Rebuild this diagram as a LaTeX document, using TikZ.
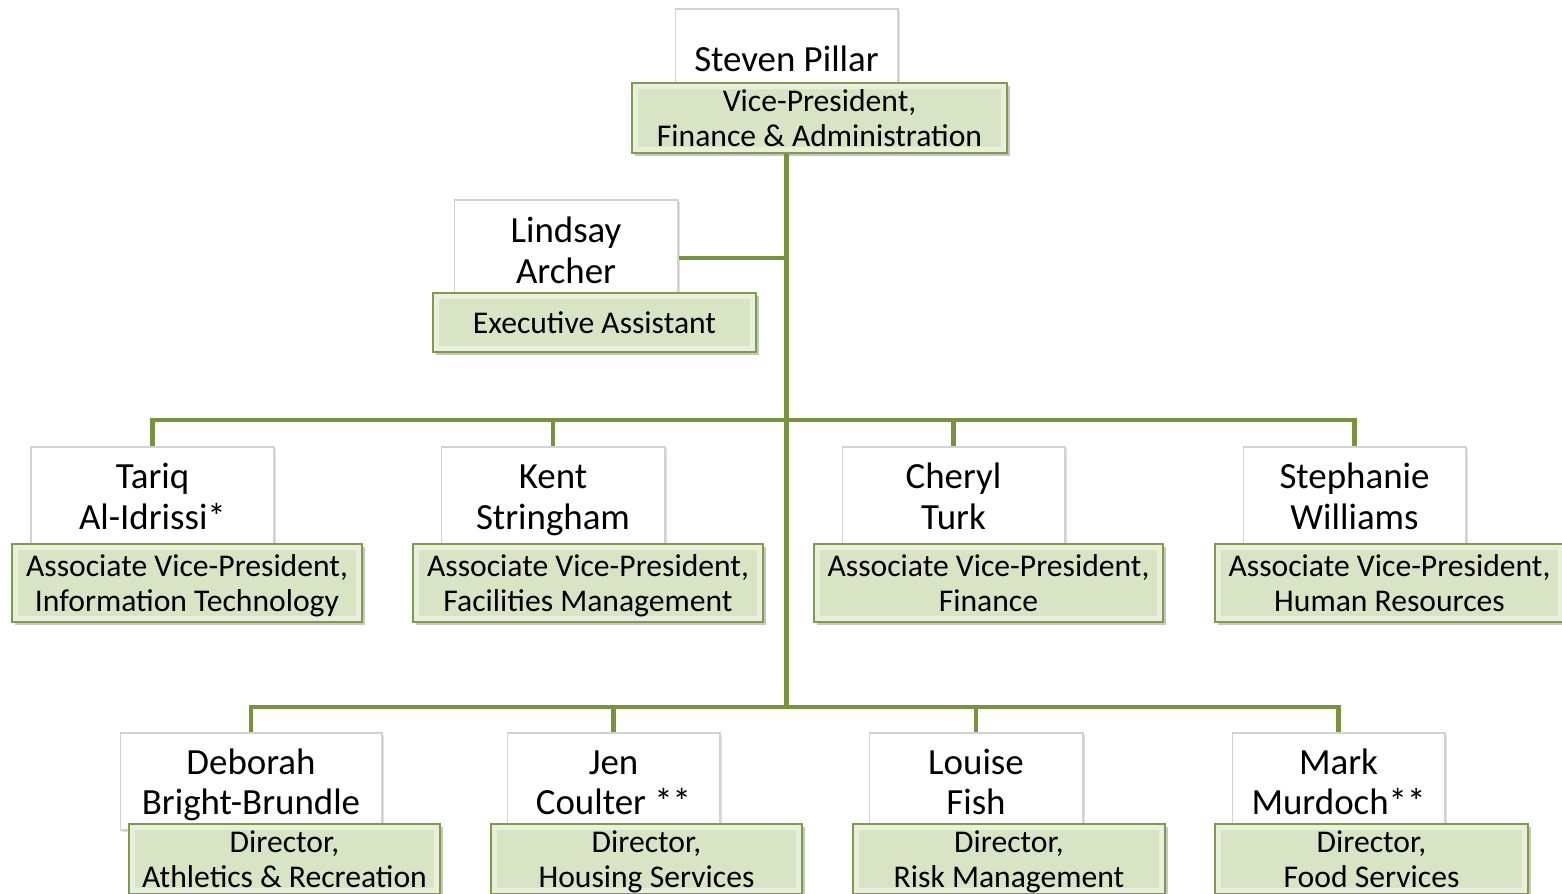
\documentclass[tikz,border=0pt]{standalone}
\usepackage{fontspec}
\setmainfont{Carlito}
\usetikzlibrary{shadows,backgrounds}
\definecolor{linkgreen}{RGB}{119,147,60}
\definecolor{titlefill}{RGB}{216,228,196}
\definecolor{titleedge}{RGB}{128,156,72}
\definecolor{titlelight}{RGB}{232,239,220}
\newcommand{\topline}{\rule{0pt}{0.935\baselineskip}}
\begin{document}
\begin{tikzpicture}[x=0.02cm,y=-0.02cm,
    namebox/.style={draw=gray!35,fill=white,line width=0.6pt,align=center,inner sep=0pt,
        font=\fontsize{21}{23.3}\selectfont,execute at end node=\strut,
        drop shadow={shadow xshift=1pt,shadow yshift=-1pt,opacity=0.25}},
    titlebox/.style={draw=titleedge,fill=titlefill,line width=1.2pt,align=center,inner xsep=0pt,inner ysep=-3pt,
        font=\fontsize{18}{20}\selectfont,execute at end node=\strut,
        drop shadow={shadow xshift=1.5pt,shadow yshift=-1.5pt,opacity=0.45},
        path picture={\draw[titlelight,line width=7pt] (path picture bounding box.south west) rectangle (path picture bounding box.north east);}},
    link/.style={draw=linkgreen,line width=2.3pt}]
    \useasboundingbox (0,0) rectangle (1562,893);
    \node[namebox,minimum width=4.46cm,minimum height=1.98cm] (pillar) at (786.5,58.5) {\topline Steven Pillar};
    \node[namebox,minimum width=4.48cm,minimum height=2cm] (lindsay) at (566,250) {\topline Lindsay\\Archer};
    \node[namebox,minimum width=4.86cm,minimum height=1.96cm] (tariq) at (152.5,496) {\topline Tariq\\Al-Idrissi*};
    \node[namebox,minimum width=4.48cm,minimum height=1.96cm] (kent) at (553,496) {\topline Kent\\Stringham};
    \node[namebox,minimum width=4.46cm,minimum height=1.96cm] (cheryl) at (953.5,496) {\topline Cheryl\\Turk};
    \node[namebox,minimum width=4.46cm,minimum height=1.96cm] (stephanie) at (1354.5,496) {\topline Stephanie\\Williams};
    \node[namebox,minimum width=5.24cm,minimum height=1.94cm] (deborah) at (251,781.5) {\topline Deborah\\Bright-Brundle};
    \node[namebox,minimum width=4.26cm,minimum height=1.94cm] (jen) at (613.5,781.5) {\topline Jen\\Coulter **};
    \node[namebox,minimum width=4.28cm,minimum height=1.94cm] (louise) at (976,781.5) {\topline Louise\\Fish};
    \node[namebox,minimum width=4.26cm,minimum height=1.94cm] (mark) at (1338.5,781.5) {\topline Mark\\Murdoch**};
    \node[titlebox,minimum width=7.5cm,minimum height=1.4cm] (vpfa) at (819.5,118) {\topline Vice-President,\\Finance \& Administration};
    \node[titlebox,minimum width=6.46cm,minimum height=1.18cm] (execasst) at (594.5,322.5) {\topline Executive Assistant};
    \node[titlebox,minimum width=7cm,minimum height=1.56cm] (avpit) at (187,583) {\topline Associate Vice-President,\\Information Technology};
    \node[titlebox,minimum width=7cm,minimum height=1.56cm] (avpfm) at (588,583) {\topline Associate Vice-President,\\Facilities Management};
    \node[titlebox,minimum width=6.98cm,minimum height=1.56cm] (avpfin) at (988.5,583) {\topline Associate Vice-President,\\Finance};
    \node[titlebox,minimum width=6.98cm,minimum height=1.56cm] (avphr) at (1389.5,583) {\topline Associate Vice-President,\\Human Resources};
    \node[titlebox,minimum width=6.22cm,minimum height=1.4cm] (dirar) at (284.5,859) {\topline Director,\\Athletics \& Recreation};
    \node[titlebox,minimum width=6.22cm,minimum height=1.4cm] (dirhs) at (646.5,859) {\topline Director,\\Housing Services};
    \node[titlebox,minimum width=6.24cm,minimum height=1.4cm] (dirrm) at (1009,859) {\topline Director,\\Risk Management};
    \node[titlebox,minimum width=6.26cm,minimum height=1.4cm] (dirfs) at (1371.5,859) {\topline Director,\\Food Services};
    \coordinate (bus2) at (786.5,420);
    \coordinate (bus3) at (786.5,707);
    \begin{scope}[on background layer]
        \draw[link] (pillar.south) -- (bus3);
        \draw[link] ([yshift=-4.5pt]lindsay.east) -- ([yshift=-4.5pt]lindsay.east -| pillar);
        \draw[link] (tariq.north) |- (bus2) -| (stephanie.north);
        \foreach \n in {kent,cheryl}
            \draw[link] (\n.north) -- (\n.north |- bus2);
        \draw[link] (deborah.north) |- (bus3) -| (mark.north);
        \foreach \n in {jen,louise}
            \draw[link] (\n.north) -- (\n.north |- bus3);
    \end{scope}
\end{tikzpicture}
\end{document}
